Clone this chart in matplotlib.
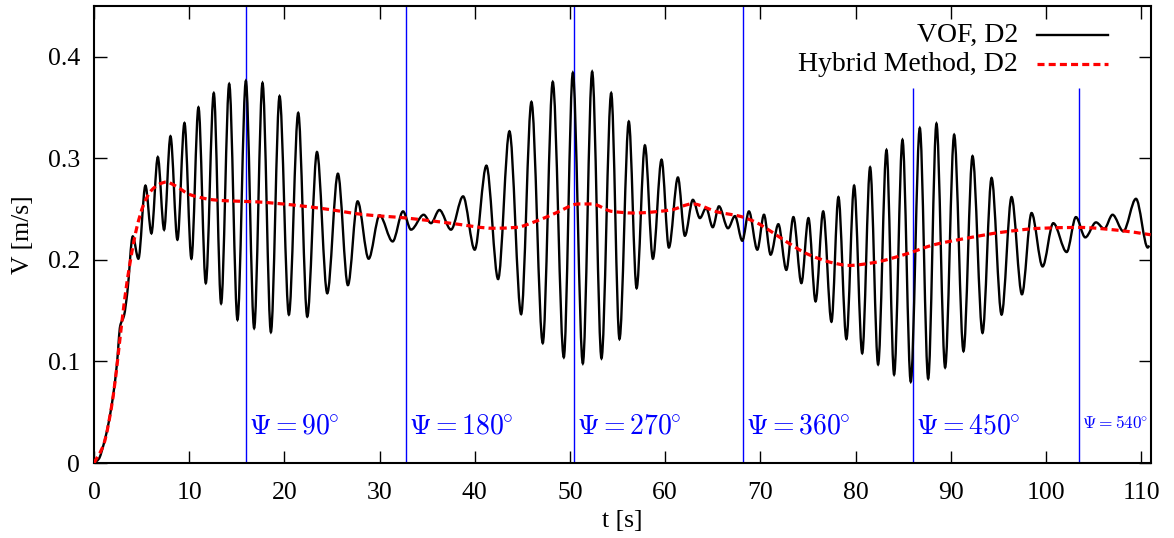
import numpy as np
import matplotlib
matplotlib.use("Agg")
import matplotlib.pyplot as plt
from matplotlib.path import Path
from matplotlib.patches import PathPatch
from matplotlib.lines import Line2D

# VOF, D2 : turning points of the oscillating signal
t_vof = [0, 0.5, 1.0, 1.5, 2.0, 2.4, 2.75, 3.15, 3.5, 4.07, 4.66, 5.40, 6.03, 6.70, 7.36,
         8.03, 8.76, 9.50, 10.23, 10.97, 11.74, 12.58, 13.35, 14.2, 15.07, 15.95, 16.82,
         17.70, 18.58, 19.49, 20.47, 21.45, 22.40, 23.42, 24.5, 25.62, 26.67, 27.69, 28.85,
         30.0, 31.37, 32.46, 33.30, 34.63, 35.40, 36.28, 37.5, 38.77, 39.99, 41.22, 42.45,
         43.64, 44.87, 45.95, 47.14, 48.19, 49.35, 50.3, 51.35, 52.33, 53.31, 54.33, 55.2,
         56.18, 57.0, 57.87, 58.71, 59.62, 60.39, 61.34, 62.07, 62.91, 63.65, 64.3, 65.0,
         65.65, 66.6, 67.33, 68.1, 68.8, 69.68, 70.38, 71.08, 71.89, 72.73, 73.47, 74.31,
         75.05, 75.8, 76.6, 77.47, 78.2, 79.04, 79.85, 80.7, 81.53, 82.37, 83.25, 84.05,
         84.93, 85.8, 86.75, 87.63, 88.5, 89.41, 90.36, 91.34, 92.29, 93.34, 94.29, 95.34,
         96.39, 97.48, 98.49, 99.65, 100.77, 102.18, 103.15, 104.13, 105.26, 106.13, 107.0,
         108.13, 109.46, 110.7, 110.85]
v_vof = [0, 0.004, 0.018, 0.038, 0.066, 0.097, 0.135, 0.145, 0.168, 0.223, 0.201, 0.273,
         0.226, 0.301, 0.2296, 0.3215, 0.2197, 0.3346, 0.201, 0.350, 0.177, 0.364, 0.157,
         0.373, 0.141, 0.376, 0.1327, 0.374, 0.1288, 0.361, 0.146, 0.3445, 0.144, 0.306,
         0.167, 0.2847, 0.175, 0.2575, 0.201, 0.2437, 0.218, 0.2476, 0.2296, 0.2443, 0.236,
         0.249, 0.2296, 0.2624, 0.2099, 0.2926, 0.181, 0.3264, 0.1465, 0.3553, 0.118, 0.375,
         0.104, 0.384, 0.098, 0.385, 0.103, 0.364, 0.122, 0.336, 0.172, 0.3126, 0.201,
         0.2985, 0.212, 0.281, 0.2236, 0.259, 0.241, 0.251, 0.232, 0.2526, 0.231, 0.243,
         0.2187, 0.2476, 0.2099, 0.2443, 0.205, 0.235, 0.190, 0.242, 0.177, 0.241, 0.159,
         0.2476, 0.139, 0.2617, 0.122, 0.273, 0.108, 0.291, 0.097, 0.308, 0.087, 0.318,
         0.080, 0.3296, 0.083, 0.334, 0.094, 0.323, 0.110, 0.302, 0.128, 0.2805, 0.146,
         0.2617, 0.166, 0.246, 0.1934, 0.236, 0.2076, 0.242, 0.222, 0.2368, 0.2305, 0.2443,
         0.228, 0.260, 0.212, 0.214]

# Hybrid Method, D2
t_hyb = [0, 1.0, 2.0, 2.6, 3.2, 3.8, 4.5, 5.2, 6.0, 7.0, 7.6, 8.5, 10.1, 12.5, 14.0, 17.0,
         20.8, 24.3, 28.3, 32.9, 37.8, 42.0, 44.3, 46.4, 48.5, 50.9, 52.3, 54.4, 56.7, 60.6,
         62.85, 65.5, 67.9, 69.5, 71.1, 72.7, 75.1, 77.6, 79.3, 81.8, 85.3, 88.25, 91.8,
         95.3, 99.5, 103.5, 107.7, 111.0]
v_hyb = [0, 0.018, 0.065, 0.112, 0.16, 0.198, 0.232, 0.254, 0.268, 0.275, 0.2765, 0.273,
         0.264, 0.259, 0.258, 0.257, 0.254, 0.250, 0.2445, 0.241, 0.2355, 0.231, 0.2318,
         0.2378, 0.246, 0.2549, 0.2549, 0.2476, 0.246, 0.249, 0.255, 0.247, 0.2427, 0.237,
         0.228, 0.218, 0.205, 0.197, 0.1944, 0.197, 0.2056, 0.2148, 0.2214, 0.227, 0.231,
         0.2318, 0.2289, 0.2246]

psi_t = [16.0, 32.8, 50.4, 68.2, 86.0, 103.5]
psi_top = [0.45, 0.45, 0.45, 0.45, 0.369, 0.369]
psi_labels = [r'$\Psi=90^{\!\!\circ}$', r'$\Psi=180^{\!\!\circ}$', r'$\Psi=270^{\!\!\circ}$',
              r'$\Psi=360^{\!\!\circ}$', r'$\Psi=450^{\!\!\circ}$', r'$\Psi=540^{\!\!\circ}$']


def smooth_path(x, y):
    # monotone cubic (Fritsch-Carlson) slopes turned into bezier control points
    x = np.asarray(x, float)
    y = np.asarray(y, float)
    h = np.diff(x)
    d = np.diff(y) / h
    m = np.zeros(len(x))
    m[0] = d[0]
    m[-1] = d[-1]
    for k in range(1, len(x) - 1):
        if d[k - 1] * d[k] > 0:
            w1 = 2 * h[k] + h[k - 1]
            w2 = h[k] + 2 * h[k - 1]
            m[k] = (w1 + w2) / (w1 / d[k - 1] + w2 / d[k])
    verts = [(x[0], y[0])]
    codes = [Path.MOVETO]
    for k in range(len(x) - 1):
        verts += [(x[k] + h[k] / 3, y[k] + m[k] * h[k] / 3),
                  (x[k + 1] - h[k] / 3, y[k + 1] - m[k + 1] * h[k] / 3),
                  (x[k + 1], y[k + 1])]
        codes += [Path.CURVE4] * 3
    return Path(verts, codes)


plt.rcParams['font.family'] = ['Liberation Serif', 'DejaVu Serif']
plt.rcParams['mathtext.fontset'] = 'cm'
plt.rcParams['font.size'] = 18.5

fig = plt.figure(figsize=(11.74, 5.38), dpi=100)
ax = fig.add_axes([0.0801, 0.1394, 0.9, 0.85])

ax.vlines(psi_t, 0, psi_top, colors='#0000ff', linewidth=1.0, zorder=1)
for i in range(len(psi_t)):
    fs = 12.5 if i == 5 else 20
    yy = 0.034 if i == 5 else 0.029
    ax.text(psi_t[i] + 0.3, yy, psi_labels[i], color='#0000ff', fontsize=fs,
            ha='left', va='baseline')

ax.add_patch(PathPatch(smooth_path(t_vof, v_vof), fill=False, edgecolor='black',
                       linewidth=1.7, zorder=3))
ax.add_patch(PathPatch(smooth_path(t_hyb, v_hyb), fill=False, edgecolor='#ff0000',
                       linewidth=2.3, linestyle=(0, (2.2, 1.3)), capstyle='butt', zorder=4))

ax.set_xlim(0, 111)
ax.set_ylim(0, 0.45)
ax.set_xticks(np.arange(0, 111, 10))
ax.set_yticks([0, 0.1, 0.2, 0.3, 0.4])
ax.set_yticklabels(['0', '0.1', '0.2', '0.3', '0.4'])
ax.tick_params(direction='in', top=True, right=True, length=9, width=1)
ax.tick_params(axis='x', pad=14)
ax.tick_params(axis='y', pad=10)
for s in ax.spines.values():
    s.set_linewidth(1.5)
ax.set_xlabel('t [s]', labelpad=4)
ax.set_ylabel('V [m/s]', labelpad=10)

# gnuplot style key: right aligned text, sample to the right
ax.text(0.8746, 0.936, 'VOF, D2', transform=ax.transAxes, ha='right', va='center',
        fontsize=20)
ax.text(0.8746, 0.8725, 'Hybrid Method, D2', transform=ax.transAxes, ha='right',
        va='center', fontsize=20)
ax.add_line(Line2D([0.8925, 0.9597], [0.936, 0.936], transform=ax.transAxes,
                   color='black', linewidth=1.7))
ax.add_line(Line2D([0.8925, 0.9597], [0.8725, 0.8725], transform=ax.transAxes,
                   color='#ff0000', linewidth=2.3, linestyle=(0, (2.2, 1.3)),
                   dash_capstyle='butt'))

fig.savefig('out.png', dpi=100)
